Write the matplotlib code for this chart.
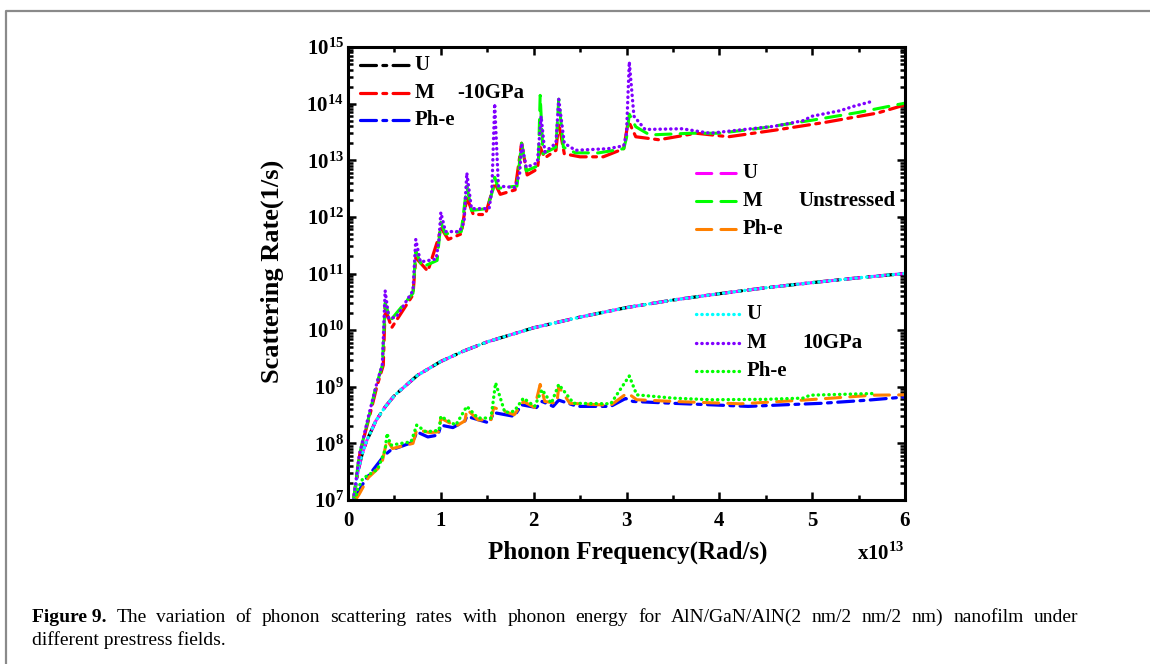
import matplotlib
matplotlib.use('Agg')
import matplotlib.pyplot as plt
from matplotlib.lines import Line2D
from matplotlib.ticker import FixedLocator, FixedFormatter, LogLocator, MultipleLocator, NullFormatter

plt.rcParams['font.family'] = ['Liberation Serif', 'DejaVu Serif']
plt.rcParams['mathtext.fontset'] = 'custom'
plt.rcParams['mathtext.rm'] = 'Liberation Serif'
plt.rcParams['mathtext.bf'] = 'Liberation Serif:bold'

# Umklapp scattering (same for all prestress cases)
u_x = [0.06, 0.1, 0.15, 0.2, 0.3, 0.4, 0.5, 0.75, 1.0, 1.25, 1.5, 2.0, 2.5, 3.0, 3.5, 4.0, 4.5, 5.0, 5.5, 6.0]
u_rate = [1.0e7, 2.8e7, 6.3e7, 1.1e8, 2.5e8, 4.4e8, 7.0e8, 1.6e9, 2.8e9, 4.3e9, 6.2e9, 1.1e10, 1.7e10,
          2.5e10, 3.4e10, 4.4e10, 5.6e10, 6.9e10, 8.4e10, 1.0e11]

# mass-difference scattering
m_neg_x = [0.06, 0.13, 0.24, 0.31, 0.38, 0.40, 0.47, 0.70, 0.73, 0.86, 0.98, 1.00, 1.08, 1.22, 1.28, 1.35, 1.48,
           1.58, 1.64, 1.80, 1.87, 1.93, 2.04, 2.07, 2.12, 2.24, 2.27, 2.33, 2.50, 2.75, 2.97, 3.02, 3.10, 3.35,
           3.75, 4.10, 4.60, 5.15, 5.70, 6.00]
m_neg_y = [1.0e7, 7.0e7, 3.4e8, 1.0e9, 2.4e9, 2.5e10, 1.1e10, 4.2e10, 1.9e11, 1.1e11, 4.5e11, 6.5e11, 4.0e11,
           5.0e11, 2.2e12, 1.1e12, 1.1e12, 4.0e12, 2.5e12, 3.0e12, 2.0e13, 5.5e12, 7.0e12, 1.7e13, 1.1e13, 1.5e13,
           4.5e13, 1.3e13, 1.15e13, 1.15e13, 1.6e13, 5.0e13, 2.6e13, 2.3e13, 3.0e13, 2.6e13, 3.4e13, 4.7e13,
           6.8e13, 9.5e13]
m_uns_x = [0.06, 0.12, 0.23, 0.30, 0.37, 0.40, 0.46, 0.70, 0.73, 0.80, 0.96, 1.00, 1.05, 1.22, 1.28, 1.33, 1.50,
           1.56, 1.58, 1.62, 1.82, 1.87, 1.92, 2.05, 2.07, 2.10, 2.24, 2.27, 2.32, 2.45, 2.70, 2.97, 3.00, 3.03,
           3.10, 3.25, 3.70, 4.00, 4.45, 5.00, 5.50, 6.00]
m_uns_y = [1.0e7, 6.0e7, 3.2e8, 1.0e9, 2.4e9, 3.0e10, 1.5e10, 4.5e10, 2.5e11, 1.3e11, 1.7e11, 8.0e11, 5.0e11,
           5.5e11, 3.5e12, 1.3e12, 1.4e12, 3.0e12, 5.0e12, 3.2e12, 3.5e12, 2.0e13, 6.5e12, 8.0e12, 1.4e14, 1.3e13,
           1.7e13, 1.2e14, 1.7e13, 1.35e13, 1.35e13, 1.6e13, 2.5e13, 6.5e13, 3.9e13, 2.8e13, 3.0e13, 3.0e13,
           3.7e13, 5.1e13, 7.0e13, 1.02e14]
m_pos_x = [0.06, 0.12, 0.22, 0.30, 0.37, 0.40, 0.44, 0.52, 0.70, 0.73, 0.78, 0.95, 0.98, 1.00, 1.05, 1.20, 1.25,
           1.28, 1.33, 1.52, 1.55, 1.58, 1.62, 1.80, 1.85, 1.87, 1.92, 2.04, 2.08, 2.12, 2.24, 2.27, 2.33, 2.45,
           2.80, 2.97, 3.00, 3.03, 3.08, 3.20, 3.60, 3.90, 4.20, 4.60, 4.90, 5.00, 5.30, 5.45, 5.65]
m_pos_y = [1.0e7, 6.0e7, 3.0e8, 1.0e9, 2.5e9, 5.0e10, 1.6e10, 1.7e10, 5.0e10, 4.0e11, 1.6e11, 1.8e11, 4.0e11,
           1.2e12, 5.5e11, 5.5e11, 8.0e11, 6.0e12, 1.4e12, 1.4e12, 3.0e12, 1.0e14, 3.5e12, 3.3e12, 6.0e12, 2.0e13,
           7.5e12, 9.0e12, 6.0e13, 1.4e13, 2.0e13, 1.2e14, 2.0e13, 1.5e13, 1.6e13, 1.8e13, 3.0e13, 5.5e14, 6.0e13,
           3.5e13, 3.6e13, 3.0e13, 3.4e13, 4.0e13, 5.0e13, 6.0e13, 7.5e13, 9.0e13, 1.1e14]

# phonon-electron scattering
p_neg_x = [0.08, 0.18, 0.38, 0.40, 0.46, 0.70, 0.74, 0.86, 0.97, 1.00, 1.13, 1.26, 1.28, 1.52, 1.57, 1.79, 1.87,
           2.03, 2.09, 2.21, 2.27, 2.47, 2.83, 2.99, 3.07, 3.50, 3.91, 4.31, 4.70, 5.10, 5.60, 6.00]
p_neg_y = [1.1e7, 2.2e7, 5.8e7, 6.3e7, 7.6e7, 1.05e8, 1.6e8, 1.3e8, 1.4e8, 2.1e8, 1.9e8, 2.5e8, 3.0e8, 2.3e8,
           3.5e8, 3.0e8, 4.8e8, 4.3e8, 5.5e8, 4.5e8, 5.8e8, 4.5e8, 4.5e8, 6.2e8, 5.5e8, 5.1e8, 4.8e8, 4.5e8,
           4.8e8, 5.1e8, 5.8e8, 6.6e8]
p_uns_x = [0.08, 0.12, 0.22, 0.36, 0.42, 0.48, 0.70, 0.74, 0.88, 0.98, 1.00, 1.16, 1.26, 1.28, 1.40, 1.54, 1.57,
           1.79, 1.89, 2.01, 2.07, 2.12, 2.25, 2.27, 2.39, 2.83, 3.01, 3.11, 3.51, 4.23, 4.90, 5.66, 6.00]
p_uns_y = [1.0e7, 1.26e7, 2.5e7, 4.1e7, 1.15e8, 8.1e7, 1.0e8, 1.75e8, 1.55e8, 1.6e8, 2.8e8, 2.0e8, 2.5e8, 4.0e8,
           2.6e8, 2.6e8, 4.3e8, 3.2e8, 5.5e8, 4.3e8, 1.1e9, 5.5e8, 5.1e8, 1.0e9, 5.1e8, 4.7e8, 7.8e8, 5.9e8,
           5.5e8, 5.0e8, 5.8e8, 7.1e8, 7.2e8]
p_pos_x = [0.08, 0.10, 0.16, 0.32, 0.40, 0.42, 0.46, 0.68, 0.74, 0.84, 0.98, 1.00, 1.16, 1.28, 1.40, 1.54, 1.59,
           1.69, 1.79, 1.89, 2.01, 2.09, 2.19, 2.27, 2.43, 2.83, 3.03, 3.11, 3.50, 3.91, 4.50, 4.90, 4.98, 5.66]
p_pos_y = [1.0e7, 1.5e7, 2.4e7, 3.5e7, 7.6e7, 1.5e8, 9.3e7, 1.07e8, 2.1e8, 1.6e8, 1.7e8, 3.0e8, 2.1e8, 4.5e8,
           2.8e8, 2.8e8, 1.17e9, 3.5e8, 3.7e8, 6.3e8, 4.5e8, 8.9e8, 5.1e8, 1.1e9, 5.1e8, 5.0e8, 1.55e9, 7.2e8,
           6.3e8, 5.9e8, 6.0e8, 6.3e8, 7.1e8, 7.6e8]

y_exponents = [7, 8, 9, 10, 11, 12, 13, 14, 15]
x_ticks = [0, 1, 2, 3, 4, 5, 6]

caption_1 = ('The variation of phonon scattering rates with phonon energy for AlN/GaN/AlN(2 nm/2 nm/2 nm) '
             'nanofilm under')
caption_2 = 'different prestress fields.'

dashdot = (5, 2, 1.2, 2)
dashed = (5, 3)
dotted = (0.1, 1.5)

fig = plt.figure(figsize=(11.5, 6.64), dpi=100)
ax = fig.add_axes([348 / 1150, 164 / 664, 557 / 1150, 453 / 664])

styles = [
    # (x, y, colour, dashes, lw)
    (u_x, u_rate, 'black', dashdot, 2.3),
    (m_neg_x, m_neg_y, '#ff0000', dashdot, 2.3),
    (p_neg_x, p_neg_y, '#0000ff', dashdot, 2.3),
    (u_x, u_rate, '#ff00ff', dashed, 2.2),
    (m_uns_x, m_uns_y, '#00ff00', dashed, 2.2),
    (p_uns_x, p_uns_y, '#ff8000', dashed, 2.2),
    (u_x, u_rate, '#00ffff', dotted, 2.4),
    (m_pos_x, m_pos_y, '#8000ff', dotted, 2.4),
    (p_pos_x, p_pos_y, '#00ff00', dotted, 2.4),
]
for x, y, c, d, lw in styles:
    ax.plot(x, y, color=c, lw=lw, dashes=d, dash_capstyle='round', solid_joinstyle='round')

ax.set_yscale('log')
ax.set_xlim(0, 6)
ax.set_ylim(1e7, 1e15)

ax.yaxis.set_major_locator(FixedLocator([10.0 ** e for e in y_exponents]))
ax.yaxis.set_major_formatter(FixedFormatter([r'$\mathbf{10^{%d}}$' % e for e in y_exponents]))
ax.yaxis.set_minor_locator(LogLocator(base=10, subs=[2, 3, 4, 5, 6, 7, 8, 9], numticks=100))
ax.yaxis.set_minor_formatter(NullFormatter())
ax.xaxis.set_major_locator(FixedLocator(x_ticks))
ax.xaxis.set_minor_locator(MultipleLocator(0.5))
ax.set_xticklabels([str(t) for t in x_ticks])

for s in ax.spines.values():
    s.set_linewidth(2.2)
ax.tick_params(which='both', direction='in', top=True, right=True, width=1.8)
ax.tick_params(which='major', length=6, labelsize=15)
ax.tick_params(which='minor', length=3.5)
ax.tick_params(axis='x', which='major', pad=8)
ax.tick_params(axis='y', which='major', pad=3)
for lab in ax.get_xticklabels() + ax.get_yticklabels():
    lab.set_fontweight('bold')

ax.set_xlabel('Phonon Frequency(Rad/s)', fontsize=18, fontweight='bold')
ax.xaxis.set_label_coords(0.503, -0.09)
ax.set_ylabel('Scattering Rate(1/s)', fontsize=19, fontweight='bold')
ax.yaxis.set_label_coords(-0.115, 0.505)
ax.text(1.0, -0.117, r'x10$^{\mathbf{13}}$', transform=ax.transAxes, ha='right', va='center',
        fontsize=15, fontweight='bold')

# hand-made legend groups
groups = [
    (0.0215, 0.111, [0.960, 0.898, 0.839], ['black', '#ff0000', '#0000ff'], dashdot, 2.3, 0.196, '-10GPa'),
    (0.625, 0.700, [0.722, 0.660, 0.598], ['#ff00ff', '#00ff00', '#ff8000'], dashed, 2.2, 0.808, 'Unstressed'),
    (0.625, 0.708, [0.411, 0.347, 0.285], ['#00ffff', '#8000ff', '#00ff00'], dotted, 2.4, 0.815, '10GPa'),
]
for x0, x1, rows, cols, d, lw, xs, stress in groups:
    for yy, c, name in zip(rows, cols, ['U', 'M', 'Ph-e']):
        ax.add_line(Line2D([x0, x1], [yy, yy], transform=ax.transAxes, color=c, lw=lw, dashes=d,
                           dash_capstyle='round'))
        ax.text(x1 + 0.008, yy, name, transform=ax.transAxes, va='center', ha='left', fontsize=15,
                fontweight='bold')
    ax.text(xs, rows[1], stress, transform=ax.transAxes, va='center', ha='left', fontsize=15, fontweight='bold')

# caption, first line justified between x=32 and x=1078 px
renderer = fig.canvas.get_renderer()
W, H = 1150, 664
words = [('Figure 9.', 'bold')] + [(w, 'normal') for w in caption_1.split(' ')]
objs = []
for w, wt in words:
    t = fig.text(0, 1 - 622 / H, w, fontsize=14, fontweight=wt, va='baseline')
    objs.append((t, t.get_window_extent(renderer).width))
total = sum(wd for _, wd in objs)
gap = (1078 - 32 - total) / (len(objs) - 1)
xpos = 32
for t, wd in objs:
    t.set_x(xpos / W)
    xpos += wd + gap
fig.text(32 / W, 1 - 645 / H, caption_2, fontsize=14, va='baseline')

# page frame
fig.add_artist(Line2D([6 / W, 6 / W, 1.0], [0, 1 - 11 / H, 1 - 11 / H], transform=fig.transFigure,
                      color='#8a8a8a', lw=1.6))

plt.savefig('out.png', dpi=100)
